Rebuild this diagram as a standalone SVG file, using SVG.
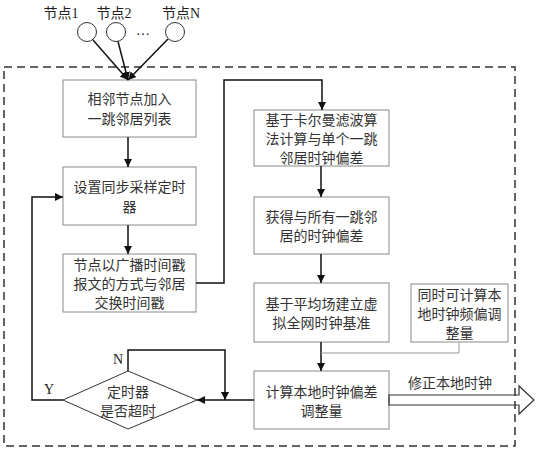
<svg xmlns="http://www.w3.org/2000/svg" width="539" height="450" viewBox="0 0 539 450">
<defs>
<marker id="ah" viewBox="0 0 10 10" refX="10" refY="5" markerWidth="8" markerHeight="8" markerUnits="userSpaceOnUse" orient="auto">
<path d="M0,0 L10,5 L0,10 Z" fill="#111"/>
</marker>
<style>
.box{fill:#fff;stroke:#8a8a8a;stroke-width:1}
.t{font-family:"Noto Sans CJK SC","Liberation Serif",sans-serif;font-size:14px;fill:#333;text-anchor:middle;dominant-baseline:central}
.l{font-family:"Liberation Serif","Noto Sans CJK SC",serif;font-size:14px;fill:#222;text-anchor:middle;dominant-baseline:central}
.c{fill:none;stroke:#111;stroke-width:1.5}
.ca{fill:none;stroke:#111;stroke-width:1.5;marker-end:url(#ah)}
</style>
</defs>
<rect x="4" y="67" width="511" height="379" fill="none" stroke="#333" stroke-width="1.5" stroke-dasharray="8,5"/>

<g id="node1"><circle cx="87" cy="32" r="9.5" fill="#fff" stroke="#333" stroke-width="1"/><text class="l" x="61" y="13">节点1</text></g>
<g id="node2"><circle cx="116" cy="32" r="9.5" fill="#fff" stroke="#333" stroke-width="1"/><text class="l" x="114" y="13">节点2</text></g>
<g id="nodeN"><circle cx="175" cy="32" r="9.5" fill="#fff" stroke="#333" stroke-width="1"/><text class="l" x="181" y="13">节点N</text></g>
<text class="l" x="143" y="30">…</text>

<g id="b1"><rect class="box" x="63" y="80" width="133" height="57"/><text class="t" x="129.5" y="98">相邻节点加入</text><text class="t" x="129.5" y="118">一跳邻居列表</text></g>
<g id="b2"><rect class="box" x="63" y="167" width="133" height="58"/><text class="t" x="129.5" y="186">设置同步采样定时</text><text class="t" x="129.5" y="206">器</text></g>
<g id="b3"><rect class="box" x="63" y="254" width="133" height="58"/><text class="t" x="129.5" y="264">节点以广播时间戳</text><text class="t" x="129.5" y="283">报文的方式与邻居</text><text class="t" x="129.5" y="302">交换时间戳</text></g>
<g id="dia"><polygon points="63,400 128,371 197,400 128,429" fill="#fff" stroke="#333" stroke-width="1"/><text class="t" x="128" y="390.5">定时器</text><text class="t" x="128" y="410">是否超时</text></g>
<g id="bA"><rect class="box" x="254" y="110" width="135" height="56"/><text class="t" x="321.5" y="119">基于卡尔曼滤波算</text><text class="t" x="321.5" y="138">法计算与单个一跳</text><text class="t" x="321.5" y="157">邻居时钟偏差</text></g>
<g id="bB"><rect class="box" x="254" y="197" width="135" height="57"/><text class="t" x="321.5" y="216">获得与所有一跳邻</text><text class="t" x="321.5" y="235">居的时钟偏差</text></g>
<g id="bC"><rect class="box" x="254" y="283" width="135" height="59"/><text class="t" x="321.5" y="303">基于平均场建立虚</text><text class="t" x="321.5" y="322">拟全网时钟基准</text></g>
<g id="bD"><rect class="box" x="254" y="371" width="135" height="58"/><text class="t" x="321.5" y="390.5">计算本地时钟偏差</text><text class="t" x="321.5" y="410">调整量</text></g>
<g id="note"><rect class="box" x="411" y="284" width="97" height="58"/><text class="t" x="459.5" y="294">同时可计算本</text><text class="t" x="459.5" y="313">地时钟频偏调</text><text class="t" x="459.5" y="332">整量</text></g>

<g id="connectors">
<line class="ca" x1="93" y1="40" x2="128" y2="80"/>
<line class="ca" x1="118" y1="41.5" x2="128" y2="80"/>
<line class="ca" x1="168" y1="39" x2="128" y2="80"/>
<line class="ca" x1="128" y1="137" x2="128" y2="167"/>
<line class="ca" x1="128" y1="225" x2="128" y2="254"/>
<polyline class="ca" points="196,283 224,283 224,80 322,80 322,110"/>
<line class="ca" x1="321" y1="166" x2="321" y2="197"/>
<line class="ca" x1="321" y1="254" x2="321" y2="283"/>
<line class="ca" x1="321" y1="342" x2="321" y2="371"/>
<polyline points="459,342 459,353 321,353" fill="none" stroke="#999" stroke-width="1"/>
<line class="ca" x1="254" y1="400" x2="197" y2="400"/>
<polyline class="ca" points="128,371 128,350 225,350 225,400"/>
<polyline class="ca" points="63,400 32,400 32,197 63,197"/>
<polygon points="389,395 519,395 519,386 534,400 519,414 519,405 389,405" fill="none" stroke="#333" stroke-width="1.2"/>
</g>
<text class="l" x="49" y="389">Y</text>
<text class="l" x="118" y="359">N</text>
<text class="t" x="450" y="382">修正本地时钟</text>
</svg>
